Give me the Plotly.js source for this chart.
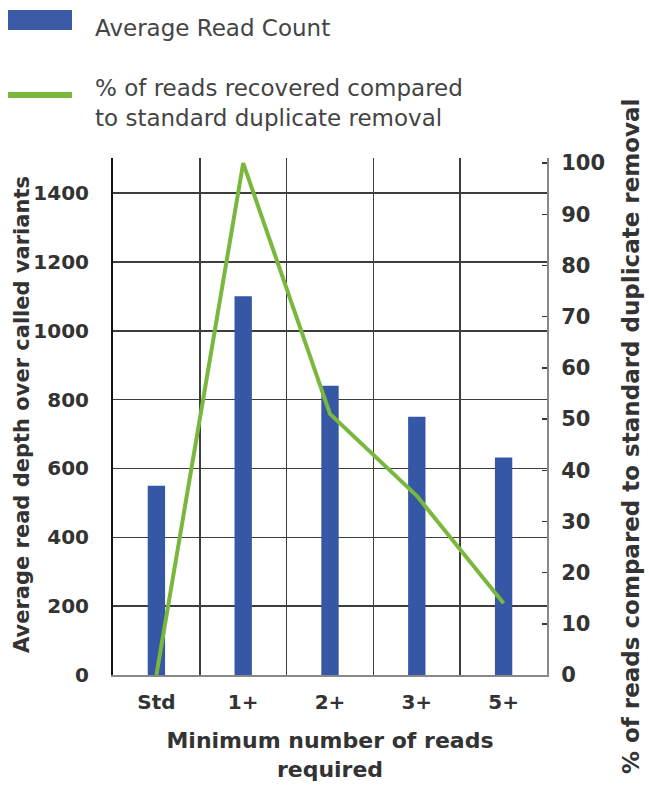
<!DOCTYPE html>
<html>
<head>
<meta charset="utf-8">
<script src="https://cdn.plot.ly/plotly-3.0.1.min.js"></script>
<style>html,body{margin:0;padding:0;background:#fff;}#chart{width:649px;height:787px;}</style>
</head>
<body>
<div id="chart"></div>
<script>
var categories = ["Std", "1+", "2+", "3+", "5+"];
var avgReadCount = [550, 1100, 840, 750, 632];
var pctRecovered = [0, 100, 51, 35, 14];
var barName = "Average Read Count";
var lineName = "% of reads recovered compared<br>to standard duplicate removal";
var leftTitle = "Average read depth over called variants";
var rightTitle = "% of reads compared to standard duplicate removal";

var W = 649, H = 787;
var M = {l: 113, r: 102, t: 158, b: 112};
var PW = W - M.l - M.r, PH = H - M.t - M.b;
function px(x) { return (x - M.l) / PW; }
function py(y) { return (H - M.b - y) / PH; }

var FONT = "DejaVu Sans, sans-serif";
var DARK = "#333333";

var traces = [
  {type: "bar", x: categories, y: avgReadCount, name: barName, width: 0.2,
   marker: {color: "#3557a6"}, yaxis: "y"},
  {type: "scatter", mode: "lines", x: categories, y: pctRecovered, name: lineName,
   line: {color: "#79b83c", width: 4}, yaxis: "y2"}
];

var layout = {
  width: W, height: H,
  margin: M,
  paper_bgcolor: "#ffffff", plot_bgcolor: "#ffffff",
  showlegend: false,
  font: {family: FONT, color: DARK},
  xaxis: {
    type: "category",
    tickson: "boundaries",
    showgrid: true, gridcolor: "#3d3d3d", gridwidth: 1.5,
    showline: true, linecolor: "#888", linewidth: 2,
    ticks: "",
    ticklabelstandoff: 8,
    tickfont: {family: FONT, size: 20, color: DARK, weight: "bold"},
    title: {text: "Minimum number of reads<br>required", font: {family: FONT, size: 22, color: DARK, weight: "bold"}, standoff: 20},
    range: [-0.5, 4.5],
    fixedrange: true
  },
  yaxis: {
    range: [0, 1502],
    dtick: 200,
    showgrid: true, gridcolor: "#3d3d3d", gridwidth: 1.5,
    zeroline: false,
    showline: true, linecolor: "#111", linewidth: 2,
    ticks: "",
    ticklabelstandoff: 18,
    tickfont: {family: FONT, size: 20, color: DARK, weight: "bold"}
  },
  yaxis2: {
    overlaying: "y", side: "right",
    range: [0, 101],
    dtick: 10,
    showgrid: false, zeroline: false,
    showline: true, linecolor: "#888", linewidth: 2,
    ticks: "inside", ticklen: 5, tickcolor: "#333", tickwidth: 1.5,
    ticklabelstandoff: 8,
    tickfont: {family: FONT, size: 21, color: DARK, weight: "bold"}
  },
  shapes: [
    {type: "rect", xref: "paper", yref: "paper", x0: px(8), x1: px(72), y0: py(30), y1: py(10),
     fillcolor: "#3a5aa5", line: {width: 0}},
    {type: "rect", xref: "paper", yref: "paper", x0: px(8), x1: px(72), y0: py(98), y1: py(92),
     fillcolor: "#79b83c", line: {width: 0}}
  ],
  annotations: [
    {xref: "paper", yref: "paper", x: px(93), y: py(28), xanchor: "left", yanchor: "middle",
     text: barName, showarrow: false, font: {family: FONT, size: 23, color: "#444"}},
    {xref: "paper", yref: "paper", x: px(93), y: py(103), xanchor: "left", yanchor: "middle",
     text: lineName, align: "left", showarrow: false, font: {family: FONT, size: 23, color: "#444"}},
    {xref: "paper", yref: "paper", x: px(22), y: py(415), xanchor: "center", yanchor: "middle",
     textangle: -90, text: leftTitle, showarrow: false,
     font: {family: FONT, size: 21, color: DARK, weight: "bold"}},
    {xref: "paper", yref: "paper", x: px(631), y: py(437), xanchor: "center", yanchor: "middle",
     textangle: -90, text: rightTitle, showarrow: false,
     font: {family: FONT, size: 23, color: DARK, weight: "bold"}}
  ]
};

Plotly.newPlot("chart", traces, layout, {displayModeBar: false, staticPlot: true});
</script>
</body>
</html>
